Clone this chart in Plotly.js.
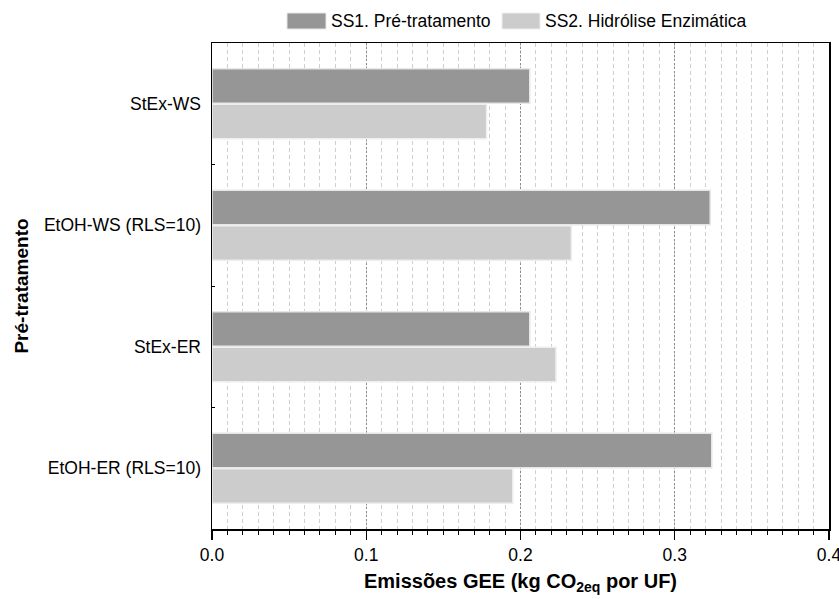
<!DOCTYPE html>
<html>
<head>
<meta charset="utf-8">
<script src="https://cdn.plot.ly/plotly-3.0.1.min.js"></script>
<style>html,body{margin:0;padding:0;background:#fff;}#chart{width:839px;height:599px;}</style>
</head>
<body>
<div id="chart"></div>
<script>
const categories = ['StEx-WS', 'EtOH-WS (RLS=10)', 'StEx-ER', 'EtOH-ER (RLS=10)'];
const seriesNames = ['SS1. Pré-tratamento', 'SS2. Hidrólise Enzimática'];
const ss1Values = [0.206, 0.323, 0.206, 0.324];
const ss2Values = [0.178, 0.233, 0.223, 0.195];
const seriesColors = ['#969696', '#cccccc'];
const xTickValues = [0, 0.1, 0.2, 0.3, 0.4];
const xTickLabels = ['0.0', '0.1', '0.2', '0.3', '0.4'];
const rightMinorTicks = [0.918, 0.819, 0.700, 0.599, 0.479, 0.381, 0.261, 0.160, 0.043];

const FONT = '"Liberation Sans", Arial, sans-serif';

const traces = [
  {type: 'bar', orientation: 'h', name: seriesNames[0], y: categories, x: ss1Values,
   marker: {color: seriesColors[0], line: {color: '#e6e6e6', width: 1.5}}, showlegend: false},
  {type: 'bar', orientation: 'h', name: seriesNames[1], y: categories, x: ss2Values,
   marker: {color: seriesColors[1], line: {color: '#eeeeee', width: 1.5}}, showlegend: false}
];

const layout = {
  width: 839, height: 599,
  margin: {l: 212, r: 10, t: 43, b: 70},
  paper_bgcolor: '#ffffff', plot_bgcolor: '#ffffff',
  font: {family: FONT, size: 17.5, color: '#000'},
  barmode: 'group', bargap: 0.415, bargroupgap: 0.03,
  xaxis: {
    range: [0, 0.4], tickmode: 'array', tickvals: xTickValues, ticktext: xTickLabels,
    ticklabeloverflow: 'allow',
    ticks: 'outside', ticklen: 9, tickwidth: 1.2, tickcolor: '#000',
    showline: true, linecolor: '#000', linewidth: 1.5, mirror: true,
    showgrid: true, gridcolor: '#8c8c8c', griddash: '2px,2px', gridwidth: 1,
    zeroline: false,
    tickfont: {family: FONT, size: 17.5, color: '#000'},
    minor: {tickmode: 'linear', tick0: 0, dtick: 0.01, ticks: 'outside', ticklen: 4, tickcolor: '#000', tickwidth: 1,
            showgrid: true, gridcolor: '#cfcfcf', griddash: '4px,3px', gridwidth: 1},
    title: {text: 'Emissões GEE (kg CO<sub>2eq</sub> por UF)', standoff: 10,
            font: {family: FONT, size: 20, color: '#000', weight: 'bold'}}
  },
  yaxis: {
    type: 'category', autorange: 'reversed',
    ticks: 'inside', tickson: 'boundaries', ticklen: 3, tickcolor: '#000',
    showline: true, linecolor: '#000', linewidth: 1.5, mirror: true,
    showgrid: false, zeroline: false, ticklabelstandoff: 6,
    tickfont: {family: FONT, size: 17.5, color: '#000'},
    title: {text: 'Pré-tratamento', standoff: 10,
            font: {family: FONT, size: 19, color: '#000', weight: 'bold'}}
  },
  xaxis2: {
    overlaying: 'x', side: 'top', anchor: 'y', range: [0, 0.4], tick0: 0, dtick: 0.04,
    ticks: 'inside', ticklen: 3, tickcolor: '#000', showticklabels: false,
    showgrid: false, zeroline: false, showline: false
  },
  yaxis2: {
    overlaying: 'y', side: 'right', anchor: 'x', range: [0, 1],
    tickmode: 'array', tickvals: rightMinorTicks,
    ticks: 'inside', ticklen: 3, tickcolor: '#000', showticklabels: false,
    showgrid: false, zeroline: false, showline: false
  },
  shapes: [
    {type: 'rect', xref: 'paper', yref: 'paper', x0: 75 / 617, x1: 114 / 617, y0: 1 + (43 - 29) / 486, y1: 1 + (43 - 13) / 486,
     fillcolor: seriesColors[0], line: {color: '#e6e6e6', width: 1}},
    {type: 'rect', xref: 'paper', yref: 'paper', x0: 290 / 617, x1: 328 / 617, y0: 1 + (43 - 29) / 486, y1: 1 + (43 - 13) / 486,
     fillcolor: seriesColors[1], line: {color: '#eeeeee', width: 1}}
  ],
  annotations: [
    {xref: 'paper', yref: 'paper', x: 117 / 617, y: 1 + (43 - 21) / 486, xanchor: 'left', yanchor: 'middle',
     text: seriesNames[0], showarrow: false, font: {family: FONT, size: 17.5, color: '#000'}},
    {xref: 'paper', yref: 'paper', x: 331 / 617, y: 1 + (43 - 21) / 486, xanchor: 'left', yanchor: 'middle',
     text: seriesNames[1], showarrow: false, font: {family: FONT, size: 17.5, color: '#000'}}
  ]
};

Plotly.newPlot('chart', traces, layout, {displayModeBar: false, staticPlot: true});
</script>
</body>
</html>
